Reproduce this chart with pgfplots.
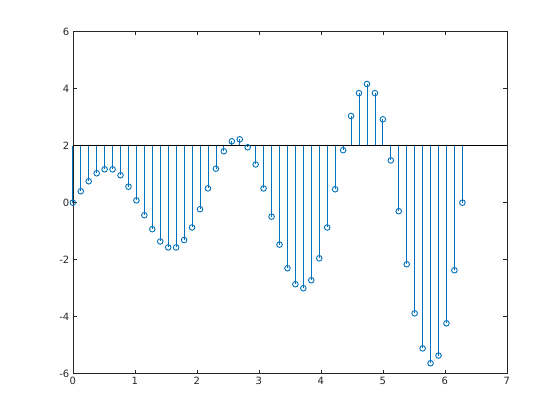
\documentclass[border=0pt]{standalone}
\usepackage{pgfplots}
\usepackage{pgfplotstable}
\pgfplotsset{compat=1.18}
\usepackage{fontspec}
\setmainfont{DejaVu Sans}
\definecolor{stemc}{rgb}{0,0.447,0.741}
\definecolor{axc}{rgb}{0.15,0.15,0.15}
\pgfplotstableread{
x y
0.00000 0.00
0.12823 0.40
0.25646 0.75
0.38468 1.03
0.51291 1.17
0.64114 1.17
0.76937 0.96
0.89760 0.56
1.02583 0.08
1.15405 -0.44
1.28228 -0.93
1.41051 -1.36
1.53874 -1.57
1.66697 -1.57
1.79519 -1.31
1.92342 -0.87
2.05165 -0.23
2.17988 0.50
2.30811 1.19
2.43634 1.80
2.56456 2.15
2.69279 2.22
2.82102 1.94
2.94925 1.34
3.07748 0.50
3.20571 -0.49
3.33393 -1.47
3.46216 -2.30
3.59039 -2.86
3.71862 -3.00
3.84685 -2.72
3.97507 -1.95
4.10330 -0.87
4.23153 0.47
4.35976 1.84
4.48799 3.04
4.61621 3.84
4.74444 4.16
4.87267 3.84
5.00090 2.92
5.12913 1.48
5.25736 -0.30
5.38558 -2.16
5.51381 -3.88
5.64204 -5.11
5.77027 -5.63
5.89850 -5.36
6.02672 -4.23
6.15495 -2.37
6.28319 0.00
}\datatable
\begin{document}
\begin{tikzpicture}[x=1pt,y=1pt]
\path (0,0) rectangle (560,420);
\begin{axis}[at={(72.8pt,46.2pt)}, anchor=south west, scale only axis,
  width=434pt, height=342.3pt,
  xmin=0, xmax=7, ymin=-6, ymax=6,
  xtick={0,1,...,7}, ytick={-6,-4,...,6},
  tick align=inside, major tick length=4pt,
  axis line style={axc, line width=0.6pt}, tick style={axc, line width=0.6pt},
  ticklabel style={font=\fontsize{10}{12}\selectfont, text=axc},
  /pgf/number format/assume math mode=true,
  clip=false]
\addplot[color=stemc, only marks, mark=o, mark size=2.8pt, mark options={line width=0.9pt},
  error bars/.cd, y dir=both, y explicit, error mark=none,
  error bar style={line width=0.8pt, stemc}]
  table[x=x, y=y, y error plus expr={max(2-\thisrow{y},0)}, y error minus expr={max(\thisrow{y}-2,0)}] {\datatable};
\addplot[black, line width=0.8pt, mark=none] coordinates {(0,2) (7,2)};
\end{axis}
\end{tikzpicture}
\end{document}
